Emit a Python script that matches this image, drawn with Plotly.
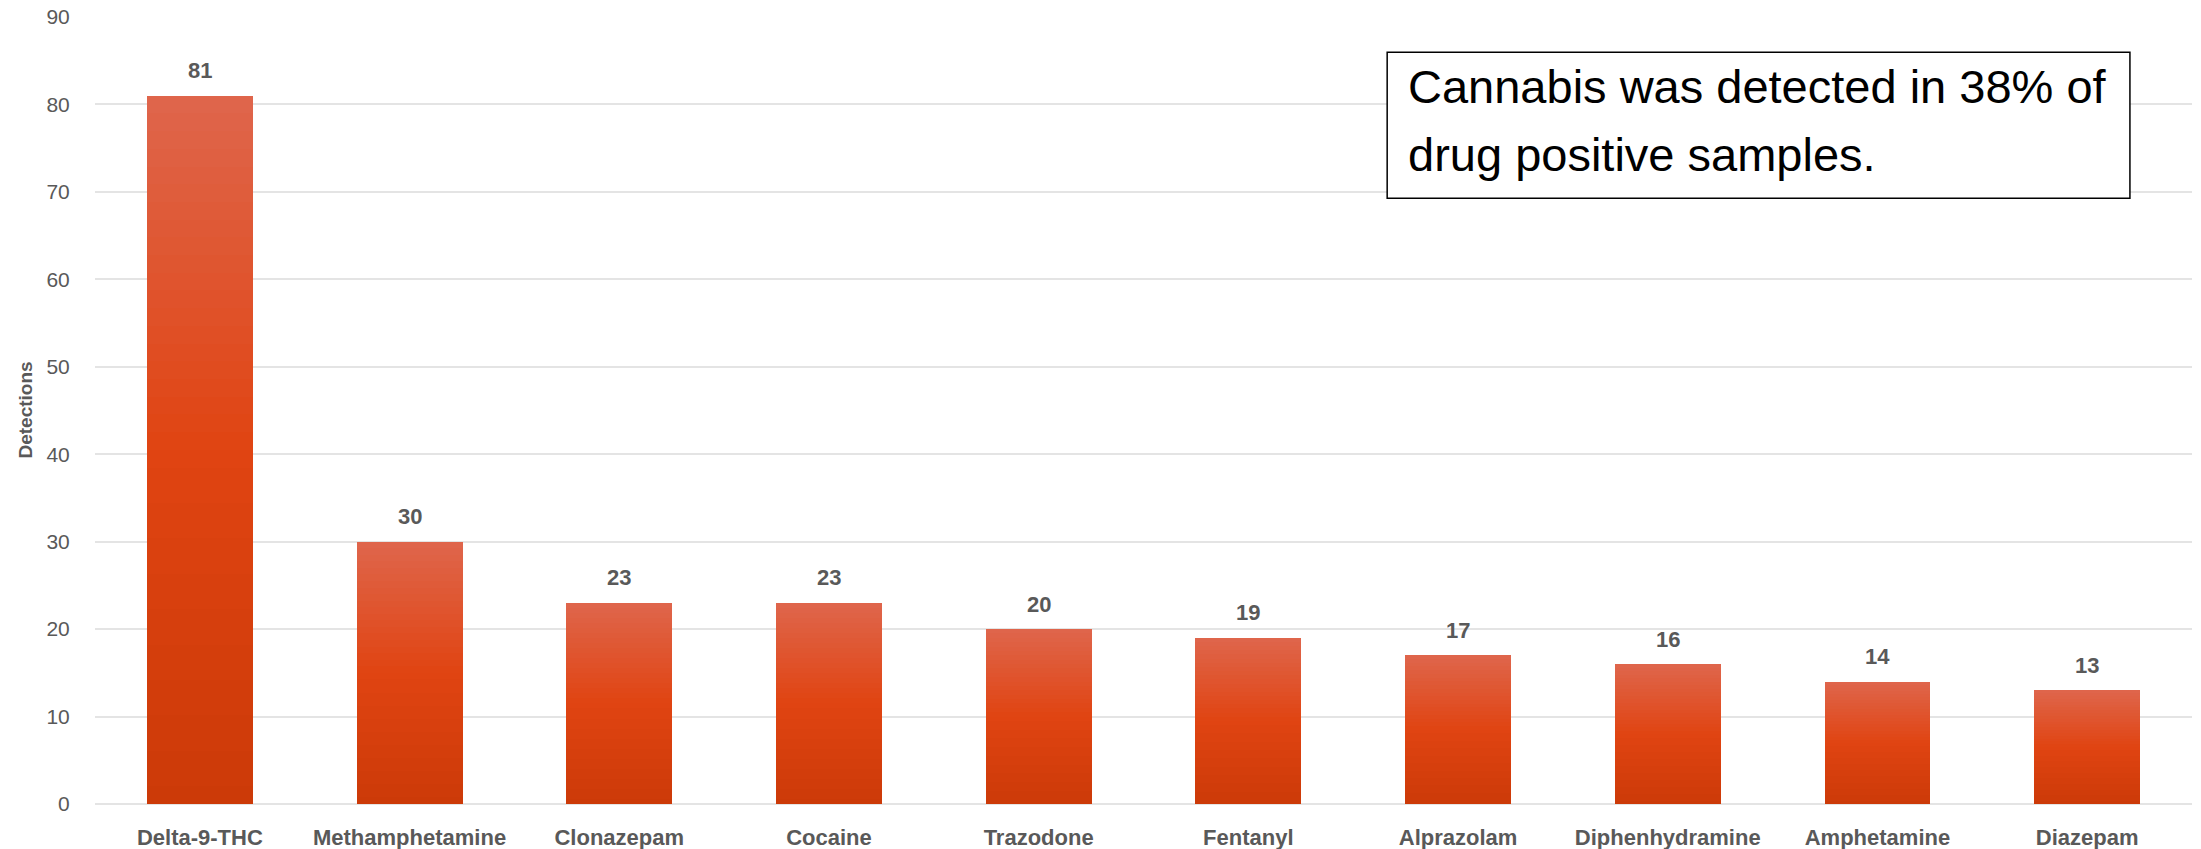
import plotly.graph_objects as go

categories = ["Delta-9-THC", "Methamphetamine", "Clonazepam", "Cocaine", "Trazodone",
              "Fentanyl", "Alprazolam", "Diphenhydramine", "Amphetamine", "Diazepam"]
detections = [81, 30, 23, 23, 20, 19, 17, 16, 14, 13]
y_ticks = [0, 10, 20, 30, 40, 50, 60, 70, 80, 90]
note_lines = ["Cannabis was detected in 38% of", "drug positive samples."]

# gradient stops (fraction of bar height from bottom -> rgb)
grad_stops = [(0.0, (204, 58, 8)), (0.5, (224, 68, 18)), (1.0, (223, 102, 76))]

FONT = "Liberation Sans, Arial, sans-serif"
GREY = "#595959"


def grad_color(f):
    for (f0, c0), (f1, c1) in zip(grad_stops[:-1], grad_stops[1:]):
        if f0 <= f <= f1:
            t = (f - f0) / (f1 - f0)
            c = [round(a + (b - a) * t) for a, b in zip(c0, c1)]
            return f"rgb({c[0]},{c[1]},{c[2]})"
    c = grad_stops[-1][1]
    return f"rgb({c[0]},{c[1]},{c[2]})"


fig = go.Figure()
N = 40
for k in range(N):
    fig.add_trace(go.Bar(
        x=categories,
        y=[v / N for v in detections],
        marker=dict(color=grad_color((k + 0.5) / N), line=dict(width=0)),
        hoverinfo="skip",
        showlegend=False,
    ))

for c, v in zip(categories, detections):
    fig.add_annotation(x=c, y=v, xref="x", yref="y", text=str(v), showarrow=False,
                       yanchor="middle", yshift=25,
                       font=dict(family=FONT, size=22, color=GREY, weight="bold"))

# y-axis title
fig.add_annotation(x=0, y=0.5, xref="paper", yref="paper", text="Detections",
                   showarrow=False, textangle=-90, xanchor="center", yanchor="middle",
                   xshift=-70,
                   font=dict(family=FONT, size=19, color=GREY, weight="bold"))

# text box
fig.add_shape(type="rect", xref="paper", yref="paper", x0=0.6162, x1=0.9704,
              y0=0.7697, y1=0.9553, line=dict(color="black", width=1.5),
              fillcolor="white", layer="above")
for line_text, ypos in zip(note_lines, [0.9115, 0.8247]):
    fig.add_annotation(x=0.6252, y=ypos, xref="paper", yref="paper",
                       text=line_text, showarrow=False,
                       xanchor="left", yanchor="middle", align="left",
                       font=dict(family=FONT, size=47, color="black"))

fig.update_layout(
    width=2201, height=849,
    barmode="stack",
    bargap=0.495,
    plot_bgcolor="white", paper_bgcolor="white",
    margin=dict(l=95, r=9, t=17, b=45, autoexpand=False),
    xaxis=dict(
        type="category",
        tickfont=dict(family=FONT, size=22, color=GREY, weight="bold"),
        ticks="outside", ticklen=14, tickcolor="rgba(0,0,0,0)",
        showline=False, showgrid=False, automargin=False,
    ),
    yaxis=dict(
        range=[0, 90], tickvals=y_ticks,
        tickfont=dict(family=FONT, size=21, color=GREY),
        ticks="outside", ticklen=20, tickcolor="rgba(0,0,0,0)",
        showgrid=True, gridcolor="#E4E4E4", gridwidth=1.5,
        zeroline=True, zerolinecolor="#E4E4E4", zerolinewidth=1.5,
        showline=False, automargin=False,
    ),
)

fig.write_html("out.html",
               config={"displayModeBar": False},
               post_script="document.body.style.margin='0';"
                           "document.body.style.overflow='hidden';")
